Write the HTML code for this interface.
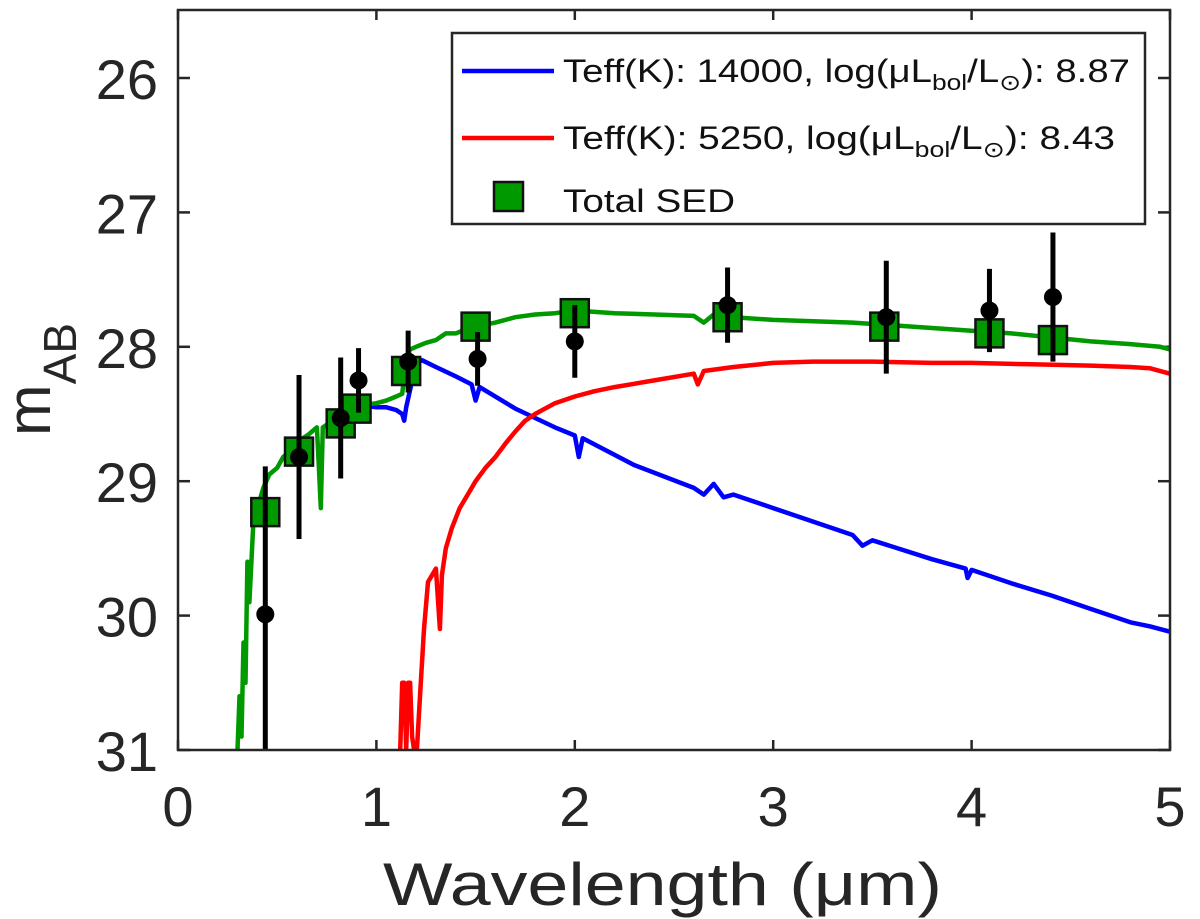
<!DOCTYPE html>
<html><head><meta charset="utf-8"><style>
body{margin:0;background:#fff;}
svg{display:block;font-family:"Liberation Sans",Arial,sans-serif;}
</style></head><body>
<svg id="chart" width="1200" height="919" viewBox="0 0 1200 919" xmlns="http://www.w3.org/2000/svg">
<rect x="0" y="0" width="1200" height="919" fill="#fff"/>
<defs><clipPath id="pc"><rect x="178" y="10" width="992" height="740"/></clipPath></defs>
<g id="ticks"></g>
<g id="curves" clip-path="url(#pc)"></g>
<g id="points" clip-path="url(#pc)"></g>
<rect x="178" y="10" width="992" height="740" fill="none" stroke="#262626" stroke-width="2.5"/>
<text x="383" y="905" font-size="60" textLength="559" lengthAdjust="spacingAndGlyphs" fill="#262626">Wavelength (μm)</text>
<text transform="translate(50,436) rotate(-90)" font-size="62" fill="#262626">m<tspan font-size="46" dy="26">AB</tspan></text>
<g>
<rect x="452" y="33" width="693" height="191" fill="#fff" stroke="#262626" stroke-width="2.5"/>
<line x1="462" y1="71" x2="554" y2="71" stroke="#0000ff" stroke-width="4.5"/>
<text x="563" y="82" font-size="32" fill="#111" textLength="567" lengthAdjust="spacingAndGlyphs">Teff(K): 14000, log(μL<tspan font-size="22" dy="8">bol</tspan><tspan dy="-8">/L</tspan><tspan font-size="22" dy="8">⊙</tspan><tspan dy="-8">): 8.87</tspan></text>
<line x1="462" y1="138" x2="554" y2="138" stroke="#ff0000" stroke-width="4.5"/>
<text x="563" y="149" font-size="32" fill="#111" textLength="552" lengthAdjust="spacingAndGlyphs">Teff(K): 5250, log(μL<tspan font-size="22" dy="8">bol</tspan><tspan dy="-8">/L</tspan><tspan font-size="22" dy="8">⊙</tspan><tspan dy="-8">): 8.43</tspan></text>
<rect x="494" y="182" width="29" height="29" fill="#009900" stroke="#111" stroke-width="2.5"/>
<text x="563" y="212" font-size="32" fill="#111" textLength="172" lengthAdjust="spacingAndGlyphs">Total SED</text>
</g>
</svg>
<script>
const xTicks=[0,1,2,3,4,5];
const yTicks=[26,27,28,29,30,31];
const greenW=[0.30,0.31,0.32,0.33,0.34,0.35,0.36,0.38,0.40,0.43,0.46,0.50,0.53,0.56,0.60,0.63,0.66,0.70,0.71,0.72,0.73,0.76,0.80,0.85,0.90,0.95,1.00,1.05,1.10,1.13,1.15,1.17,1.20,1.25,1.30,1.35,1.40,1.45,1.50,1.60,1.70,1.80,1.90,2.00,2.20,2.40,2.60,2.65,2.70,2.80,3.00,3.20,3.40,3.60,3.80,4.00,4.20,4.40,4.60,4.80,4.95,5.00];
const greenM=[31.0,30.6,30.9,30.2,30.5,29.6,29.9,29.3,29.2,29.05,28.95,28.9,28.82,28.78,28.75,28.68,28.65,28.6,28.9,29.2,28.6,28.57,28.55,28.5,28.45,28.43,28.42,28.4,28.37,28.35,28.1,28.02,28.0,27.97,27.95,27.9,27.9,27.87,27.85,27.82,27.78,27.76,27.75,27.73,27.75,27.76,27.77,27.82,27.76,27.78,27.8,27.81,27.82,27.84,27.86,27.88,27.9,27.93,27.96,27.98,28.0,28.02];
const blueW=[0.85,0.90,0.95,1.00,1.05,1.10,1.13,1.14,1.15,1.20,1.23,1.30,1.40,1.48,1.50,1.52,1.70,1.90,2.00,2.02,2.04,2.30,2.60,2.65,2.70,2.75,2.80,3.00,3.40,3.45,3.50,3.80,3.97,3.98,4.00,4.20,4.40,4.60,4.80,4.90,5.00];
const blueM=[28.47,28.44,28.44,28.45,28.45,28.47,28.5,28.55,28.45,28.12,28.1,28.15,28.22,28.28,28.4,28.3,28.46,28.6,28.66,28.82,28.68,28.88,29.05,29.1,29.02,29.12,29.1,29.2,29.4,29.48,29.44,29.58,29.65,29.72,29.66,29.76,29.85,29.95,30.05,30.08,30.12];
const redW=[1.12,1.13,1.14,1.15,1.16,1.17,1.18,1.20,1.22,1.24,1.26,1.28,1.30,1.32,1.33,1.35,1.38,1.42,1.46,1.50,1.55,1.60,1.65,1.70,1.75,1.80,1.90,2.00,2.10,2.20,2.40,2.60,2.62,2.65,2.80,3.00,3.20,3.50,3.80,4.00,4.30,4.60,4.80,4.90,5.00];
const redM=[31.0,30.5,30.5,31.0,30.5,30.5,30.9,31.1,30.6,30.1,29.75,29.7,29.65,30.1,29.7,29.5,29.35,29.2,29.1,29.0,28.9,28.82,28.72,28.63,28.55,28.5,28.42,28.37,28.33,28.3,28.25,28.2,28.28,28.18,28.15,28.12,28.11,28.11,28.12,28.12,28.13,28.14,28.15,28.16,28.2];
const sqW=[0.44,0.61,0.82,0.90,1.15,1.50,2.00,2.77,3.56,4.09,4.41];
const sqM=[29.23,28.78,28.57,28.46,28.18,27.85,27.75,27.78,27.85,27.90,27.95];
const dotW=[0.44,0.61,0.82,0.91,1.16,1.51,2.00,2.77,3.57,4.09,4.41];
const dotM=[29.99,28.82,28.53,28.25,28.11,28.09,27.96,27.69,27.78,27.73,27.63];
const dotErr=[1.1,0.61,0.45,0.24,0.23,0.20,0.27,0.28,0.42,0.31,0.48];

const X=w=>178+w*198.4;
const Y=m=>78+(m-26)*134.4;
const NS='http://www.w3.org/2000/svg';
function mk(tag,attrs,parent){const e=document.createElementNS(NS,tag);for(const k in attrs)e.setAttribute(k,attrs[k]);parent.appendChild(e);return e;}
const tg=document.getElementById('ticks');
xTicks.forEach(t=>{
  const l=mk('line',{x1:X(t),x2:X(t),y1:750,y2:740,stroke:'#262626','stroke-width':2.5},tg);
  
  
  const l2=mk('line',{x1:X(t),x2:X(t),y1:10,y2:20,stroke:'#262626','stroke-width':2.5},tg);
  
  
  const tx=mk('text',{x:X(t),y:826,'font-size':56,'text-anchor':'middle',fill:'#262626'},tg);
  tx.textContent=t;
  
  
});
yTicks.forEach(t=>{
  const l=mk('line',{x1:178,x2:190,y1:Y(t),y2:Y(t),stroke:'#262626','stroke-width':2.5},tg);
  
  
  const l2=mk('line',{x1:1158,x2:1170,y1:Y(t),y2:Y(t),stroke:'#262626','stroke-width':2.5},tg);
  
  
  const tx=mk('text',{x:158,y:Y(t)+21,'font-size':56,'text-anchor':'end',fill:'#262626'},tg);
  tx.textContent=t;
  
  
});
const cg=document.getElementById('curves');
function curve(ws,ms,color,name){
  const d=ws.map((w,i)=>(i?'L':'M')+X(w).toFixed(1)+','+Y(ms[i]).toFixed(1)).join('');
  const p=mk('path',{d:d,fill:'none',stroke:color,'stroke-width':4.5,'stroke-linejoin':'round'},cg);
  
  
}
curve(blueW,blueM,'#0000ff','blue-14000k-curve');
curve(redW,redM,'#ff0000','red-5250k-curve');
curve(greenW,greenM,'#009900','total-sed-curve');
const pg=document.getElementById('points');
sqW.forEach((w,i)=>{
  const r=mk('rect',{x:X(w)-14,y:Y(sqM[i])-14,width:28,height:28,fill:'#009900',stroke:'#111','stroke-width':2.5},pg);
  
  
});
dotW.forEach((w,i)=>{
  const l=mk('line',{x1:X(w),x2:X(w),y1:Y(dotM[i]-dotErr[i]),y2:Y(dotM[i]+dotErr[i]),stroke:'#000','stroke-width':5},pg);
  
  
  const c=mk('circle',{cx:X(w),cy:Y(dotM[i]),r:9,fill:'#000'},pg);
  
  
});
</script>
</body></html>
